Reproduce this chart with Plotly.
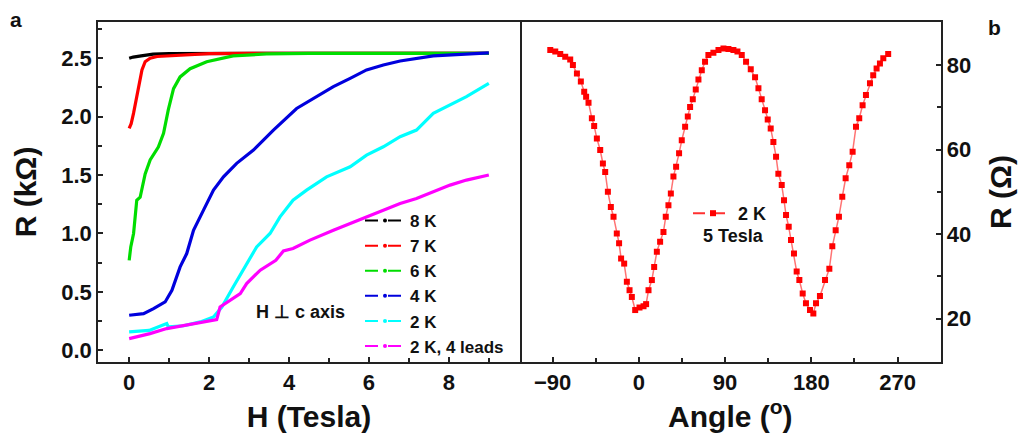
import plotly.graph_objects as go

# ---------------- Panel a data: R (kOhm) vs H (Tesla) ----------------
H_8K = [0, 0.1, 0.3, 0.6, 1.0, 2, 3, 4, 5, 6, 7, 8, 9]
R_8K = [2.50, 2.51, 2.52, 2.535, 2.54, 2.542, 2.542, 2.542, 2.542, 2.542, 2.542, 2.542, 2.542]

H_7K = [0, 0.05, 0.11, 0.23, 0.32, 0.4, 0.525, 0.7, 0.94, 1.5, 2, 3, 4, 5, 6, 7, 8, 9]
R_7K = [1.90, 1.94, 2.03, 2.23, 2.40, 2.47, 2.50, 2.515, 2.52, 2.535, 2.54, 2.542, 2.542,
        2.542, 2.542, 2.542, 2.542, 2.542]

H_6K = [0, 0.04, 0.11, 0.19, 0.275, 0.4, 0.525, 0.73, 0.86, 0.98, 1.11, 1.275, 1.525,
        1.94, 2.6, 3.44, 4.5, 6, 7, 8, 9]
R_6K = [0.77, 0.885, 1.0, 1.285, 1.31, 1.51, 1.63, 1.74, 1.857, 2.06, 2.24, 2.34, 2.41,
        2.47, 2.52, 2.537, 2.542, 2.542, 2.542, 2.542, 2.542]

H_4K = [0, 0.36, 0.61, 0.9, 1.07, 1.275, 1.44, 1.61, 1.86, 2.11, 2.36, 2.69, 3.11, 3.61,
        4.19, 4.69, 5.11, 5.53, 5.94, 6.36, 6.78, 7.61, 8.44, 9]
R_4K = [0.30, 0.314, 0.357, 0.414, 0.514, 0.714, 0.828, 1.028, 1.2, 1.371, 1.485, 1.6,
        1.714, 1.885, 2.07, 2.171, 2.257, 2.328, 2.40, 2.442, 2.476, 2.52, 2.537, 2.545]

H_2K = [0, 0.5, 0.94, 0.98, 1.36, 1.78, 2.11, 2.32, 2.6, 2.94, 3.19, 3.525, 3.775, 4.1,
        4.44, 4.94, 5.53, 5.94, 6.36, 6.78, 7.19, 7.61, 8.03, 8.44, 9]
R_2K = [0.157, 0.17, 0.23, 0.2, 0.21, 0.243, 0.285, 0.371, 0.54, 0.743, 0.885, 1.0,
        1.142, 1.285, 1.371, 1.485, 1.571, 1.671, 1.742, 1.828, 1.885, 2.028, 2.1, 2.171, 2.285]

H_2K4 = [0, 0.52, 0.94, 1.78, 2.19, 2.275, 2.6, 2.78, 2.94, 3.28, 3.67, 3.86, 4.1, 4.525,
         5.11, 5.53, 5.94, 6.36, 6.78, 7.19, 7.61, 8.03, 8.44, 9]
R_2K4 = [0.10, 0.143, 0.186, 0.234, 0.262, 0.371, 0.443, 0.486, 0.571, 0.686, 0.771, 0.85,
         0.871, 0.943, 1.028, 1.085, 1.142, 1.2, 1.257, 1.3, 1.357, 1.414, 1.457, 1.50]

series_a = [
    ("8 K", H_8K, R_8K, "#000000"),
    ("7 K", H_7K, R_7K, "#ff0000"),
    ("6 K", H_6K, R_6K, "#00dd00"),
    ("4 K", H_4K, R_4K, "#0000dd"),
    ("2 K", H_2K, R_2K, "#00ffff"),
    ("2 K, 4 leads", H_2K4, R_2K4, "#ff00ff"),
]

# ---------------- Panel b data: R (Ohm) vs angle (deg) ----------------
angle = [-92.4, -87.2, -82, -76.8, -71.6, -68.8, -64.6, -60.5, -57, -55, -52.5, -49, -46.6,
         -43.8, -40.3, -37.5, -35.1, -32.3, -29.2, -26.4, -23, -20.6, -18.5, -15.3, -12.5,
         -9.7, -7.3, -3.8, 0.7, 4.9, 7.6, 10.1, 13.6, 16, 18.8, 22.2, 25.7, 28.1, 30.9, 33.4,
         36.1, 38.9, 42, 44.8, 48.3, 51.1, 53.5, 56.3, 59.4, 62.2, 65.7, 69.1, 72.6, 77.8,
         83.1, 88.3, 93.5, 98.7, 102.9, 107.4, 111.9, 116.8, 121.3, 124.8, 128.2, 131.7,
         134.5, 137.6, 140.4, 143.2, 145.6, 149.1, 151.5, 153.6, 156.4, 158.8, 161.9, 164.7,
         167.5, 171, 174.4, 178.6, 182.1, 184.9, 189, 194.3, 198.8, 201.9, 205.4, 208.8,
         212.3, 215.8, 219.6, 223.1, 226.6, 230, 233.5, 237, 241.2, 244.6, 248.1, 251.6,
         255.1, 260.2]
R_ohm = [83.6, 83.2, 82.6, 82.0, 81.3, 80.0, 78.0, 76.1, 73.7, 72.5, 71.1, 67.4, 65.6,
         62.6, 59.9, 56.7, 54.7, 50.0, 46.4, 44.1, 40.1, 37.8, 34.2, 33.0, 28.7,
         26.7, 25.1, 22.0, 22.6, 22.9, 23.4, 26.7, 29.1, 32.2, 35.8, 38.2, 40.5, 44.1, 46.8, 49.6,
         53.6, 55.9, 59.1, 62.2, 65.4, 67.8, 70.1, 71.9, 74.2, 76.6, 78.8, 80.8, 82.4, 82.9,
         83.6, 83.9, 83.8, 83.6, 83.2, 82.4, 80.8, 79.0, 77.1, 74.5, 71.9, 69.3,
         67.1, 65.0, 61.8, 58.3, 54.3, 51.6, 48.0, 44.5, 41.7, 38.6, 35.4, 31.1,
         29.1, 25.9, 23.6, 22.0, 21.2, 23.6, 25.3, 29.1, 31.8, 37.1, 40.9, 44.1,
         48.8, 53.2, 56.3, 59.5, 65.4, 67.4, 70.5, 72.9, 75.7, 77.6, 79.2, 80.4,
         81.6, 82.6]

W, Hpx = 1018, 433
FONT = "Liberation Sans, Arial, sans-serif"


def px_x(p):
    return p / W


def px_y(p):
    return 1 - p / Hpx


fig = go.Figure()

for name, xs, ys, col in series_a:
    fig.add_trace(go.Scatter(x=xs, y=ys, mode="lines", line=dict(color=col, width=3.2),
                             showlegend=False, xaxis="x", yaxis="y"))
for name, xs, ys, col in series_a:
    fig.add_trace(go.Scatter(x=[None], y=[None], mode="lines+markers", name=name,
                             line=dict(color=col, width=2, dash="13px,10px"),
                             marker=dict(color=col, size=4, symbol="circle"),
                             legend="legend", xaxis="x", yaxis="y"))

fig.add_trace(go.Scatter(x=angle, y=R_ohm, mode="lines+markers",
                         line=dict(color="rgba(255,40,40,0.65)", width=1.5),
                         marker=dict(color="#ff0000", size=6, symbol="square"),
                         showlegend=False, xaxis="x2", yaxis="y2"))
fig.add_trace(go.Scatter(x=[None], y=[None], mode="lines+markers", name="2 K",
                         line=dict(color="#ff3030", width=2, dash="12px,8px"),
                         marker=dict(color="#ff0000", size=6, symbol="square"),
                         legend="legend2", xaxis="x2", yaxis="y2"))

tickfont = dict(family=FONT, size=22, color="#111", weight="bold")
titlefont = dict(family=FONT, size=30, color="#111", weight="bold")
minor_style = dict(ticks="inside", ticklen=4, tickwidth=1.5, tickcolor="#222")
common = dict(showline=True, linecolor="#222", linewidth=1.5,
              ticks="inside", ticklen=5, tickwidth=1.5, tickcolor="#222",
              showgrid=False, zeroline=False, tickfont=tickfont)

xa = [px_x(98), px_x(520)]
xb = [px_x(520), px_x(940.7)]
yd = [px_y(362), px_y(22)]

fig.update_layout(
    width=W, height=Hpx, margin=dict(l=0, r=0, t=0, b=0),
    paper_bgcolor="white", plot_bgcolor="white",
    font=dict(family=FONT, color="#111"),
    xaxis=dict(domain=xa, range=[-0.78, 9.78], dtick=2, tick0=0, mirror=True,
               minor=dict(dtick=1, tick0=0, **minor_style),
               title=dict(text="H (Tesla)", font=titlefont, standoff=14), anchor="y", **common),
    yaxis=dict(domain=yd, range=[-0.1, 2.81], dtick=0.5, tick0=0, tickformat=".1f", mirror=True,
               minor=dict(dtick=0.25, tick0=0, **minor_style),
               title=dict(text="R (kΩ)", font=titlefont, standoff=16), anchor="x", **common),
    xaxis2=dict(domain=xb, range=[-124, 315], tickvals=[-90, 0, 90, 180, 270], mirror=True,
                minor=dict(tickvals=[-45, 45, 135, 225], **minor_style),
                title=dict(text="Angle (<sup>o</sup>)", font=titlefont, standoff=14), anchor="y2", **common),
    yaxis2=dict(domain=yd, range=[9.7, 90.2], tickvals=[20, 40, 60, 80], side="right", mirror=False,
                minor=dict(tickvals=[30, 50, 70], **minor_style),
                title=dict(text="R (Ω)", font=titlefont, standoff=20), anchor="x2", **common),
    legend=dict(x=px_x(360), y=px_y(203), xanchor="left", yanchor="top",
                bgcolor="rgba(0,0,0,0)", itemwidth=40, tracegroupgap=0,
                font=dict(family=FONT, size=17, color="#111", weight="bold")),
    legend2=dict(x=px_x(688), y=px_y(195), xanchor="left", yanchor="top",
                 bgcolor="rgba(0,0,0,0)", itemwidth=40,
                 font=dict(family=FONT, size=18, color="#111", weight="bold")),
    annotations=[
        dict(text="H ⊥ c axis", x=px_x(300), y=px_y(312), xref="paper", yref="paper",
             xanchor="center", yanchor="middle", showarrow=False,
             font=dict(family=FONT, size=18, color="#111", weight="bold")),
        dict(text="5 Tesla", x=px_x(733), y=px_y(236), xref="paper", yref="paper",
             xanchor="center", yanchor="middle", showarrow=False,
             font=dict(family=FONT, size=18, color="#111", weight="bold")),
        dict(text="a", x=px_x(16), y=px_y(19), xref="paper", yref="paper",
             xanchor="center", yanchor="middle", showarrow=False,
             font=dict(family=FONT, size=21, color="#111", weight="bold")),
        dict(text="b", x=px_x(994), y=px_y(28), xref="paper", yref="paper",
             xanchor="center", yanchor="middle", showarrow=False,
             font=dict(family=FONT, size=21, color="#111", weight="bold")),
    ],
)

fig.write_html("out.html")
